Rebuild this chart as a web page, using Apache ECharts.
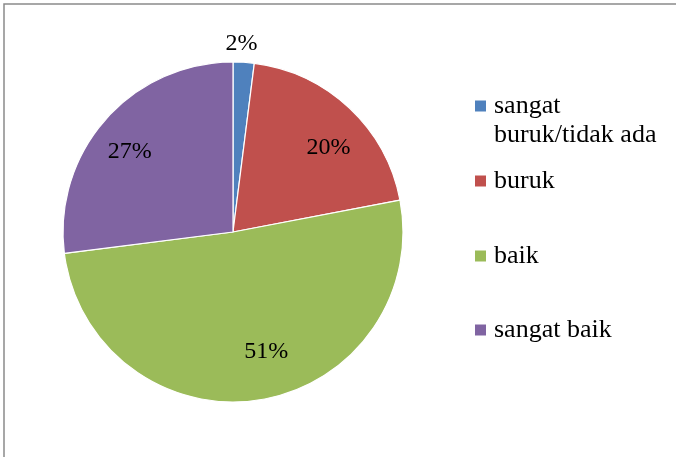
<!DOCTYPE html>
<html>
<head>
<meta charset="utf-8">
<style>
  html, body { margin: 0; padding: 0; background: #ffffff; }
  #chart { width: 676px; height: 457px; }
</style>
<script src="https://cdn.jsdelivr.net/npm/echarts@6/dist/echarts.min.js"></script>
</head>
<body>
<div id="chart"></div>
<script>
// Category names and shares (percent)
const categories = ['sangat buruk/tidak ada', 'buruk', 'baik', 'sangat baik'];
const shares = [2, 20, 51, 27];
const sliceColors = ['#4F81BD', '#C0504D', '#9BBB59', '#8064A2'];

const FONT = "'Liberation Serif', 'Times New Roman', serif";
const CX = 233, CY = 232, R = 170;

// label placement: distance from the centre and small angular nudge (degrees)
const labelDist = [188, 127, 124, 131];
const labelTurn = [-1, 5.5, -6.5, -3.5];

const chart = echarts.init(document.getElementById('chart'), null, { renderer: 'canvas' });

const legendCenters = [105, 180, 255, 329];
const legendLine = 29;
const legends = categories.map((name, i) => {
  const lines = i === 0 ? 3 : 1;
  return {
    orient: 'vertical',
    left: 473,
    top: legendCenters[i] - (lines * legendLine) / 2,
    padding: 0,
    itemWidth: 13,
    itemHeight: 13,
    icon: 'rect',
    selectedMode: false,
    data: [name],
    formatter: i === 0 ? () => '\nsangat\nburuk/tidak ada' : undefined,
    textStyle: {
      fontFamily: FONT,
      fontSize: 26,
      color: '#000000',
      lineHeight: legendLine,
      padding: [2, 0, 0, 2]
    }
  };
});

chart.setOption({
  animation: false,
  color: sliceColors,
  graphic: [{
    type: 'rect',
    shape: { x: 4, y: 4, width: 800, height: 600 },
    style: { fill: 'none', stroke: '#8a8a8a', lineWidth: 1.5 },
    silent: true
  }],
  legend: legends,
  series: [{
    type: 'pie',
    center: [CX, CY],
    radius: R,
    startAngle: 90,
    clockwise: true,
    silent: true,
    emphasis: { disabled: true },
    itemStyle: { borderColor: '#ffffff', borderWidth: 1.2 },
    label: {
      show: true,
      position: 'inside',
      formatter: '{d}%',
      fontFamily: FONT,
      fontSize: 24,
      color: '#000000'
    },
    labelLine: { show: false },
    labelLayout: function (p) {
      const lr = p.labelRect;
      const lx = lr.x + lr.width / 2;
      const ly = lr.y + lr.height / 2;
      const ang = Math.atan2(lx - CX, CY - ly) + labelTurn[p.dataIndex] * Math.PI / 180;
      const d = labelDist[p.dataIndex];
      const tx = CX + d * Math.sin(ang);
      const ty = CY - d * Math.cos(ang);
      return { dx: tx - lx, dy: ty - ly };
    },
    data: categories.map((name, i) => ({ name: name, value: shares[i] }))
  }]
});
</script>
</body>
</html>
